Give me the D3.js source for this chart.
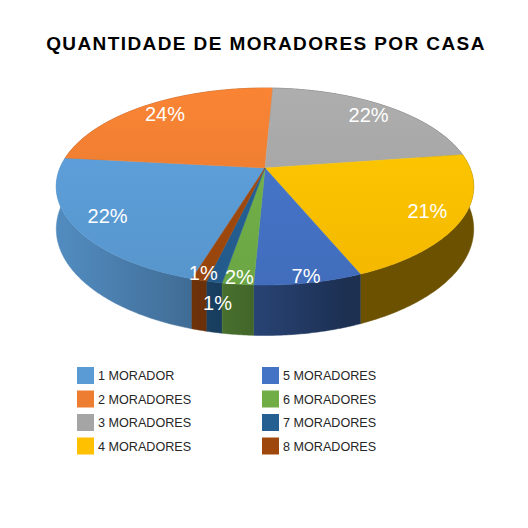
<!DOCTYPE html>
<html>
<head>
<meta charset="utf-8">
<script src="https://cdn.jsdelivr.net/npm/d3@7"></script>
<style>
  body { margin: 0; background: #fff; }
  svg { font-family: "Liberation Sans", Arial, sans-serif; }
</style>
</head>
<body>
<div id="chart"></div>
<script>
const categories = ['1 MORADOR', '2 MORADORES', '3 MORADORES', '4 MORADORES',
	'5 MORADORES', '6 MORADORES', '7 MORADORES', '8 MORADORES'];
const percentages = [22, 24, 22, 21, 7, 2, 1, 1];
const sliceColors = ['#5b9bd5', '#ed7d31', '#a5a5a5', '#ffc000',
	'#4472c4', '#70ad47', '#255e91', '#9e480e'];

const width = 528;
const height = 528;

// 3d disc, simple perspective
const cx = 265;
const cy = 168;
const rx = 205;
const ry = 95;
const persp = 0.188;
const depth = 41;
const startDeg = 197;

const svg = d3.select('#chart')
	.append('svg')
	.attr('width', width)
	.attr('height', height)
	.attr('viewBox', [0, 0, width, height]);

svg.append('text')
	.attr('x', 266)
	.attr('y', 50)
	.attr('text-anchor', 'middle')
	.style('font-size', '19px')
	.style('font-weight', 'bold')
	.style('letter-spacing', '1.4px')
	.attr('fill', '#000')
	.text('QUANTIDADE DE MORADORES POR CASA');

const color = d3.scaleOrdinal().domain(categories).range(sliceColors);

const pie = d3.pie()
	.sort(null)
	.value((d) => d.value)
	.startAngle((startDeg * Math.PI) / 180)
	.endAngle((startDeg * Math.PI) / 180 + 2 * Math.PI);

const arcs = pie(categories.map((c, i) => ({ name: c, value: percentages[i] })));

// angle a (d3 convention), radius r (0..1), z 0 = top, 1 = bottom
function project(a, r, z) {
	const u = r * Math.sin(a);
	const v = -r * Math.cos(a);
	const p = 1 / (1 - persp * v);
	return [cx + rx * u * p, cy + ry * v * p + z * depth * p];
}

function shade(a) {
	// light coming from the left
	const lit = Math.max(0, -0.9 * Math.sin(a) - 0.3 * Math.cos(a));
	return 0.42 + 0.5 * lit;
}

function arcPoints(a0, a1, z, step) {
	const n = Math.max(2, Math.ceil(Math.abs(a1 - a0) / step));
	return d3.range(n + 1).map((i) => project(a0 + ((a1 - a0) * i) / n, 1, z));
}

const line = d3.line();
const defs = svg.append('defs');

// side walls, one shaded path per slice
arcs.forEach((d, i) => {
	const g = defs.append('linearGradient')
		.attr('id', 'side' + i)
		.attr('gradientUnits', 'userSpaceOnUse')
		.attr('x1', 0).attr('y1', 0).attr('x2', width).attr('y2', 0);
	const n = 40;
	const stops = [];
	for (let k = 0; k <= n; k++) {
		const a = d.startAngle + ((d.endAngle - d.startAngle) * k) / n;
		if (-Math.cos(a) < 0.15) continue;
		const [x] = project(a, 1, 0);
		stops.push({ o: x / width, c: d3.interpolateRgb(color(d.data.name), '#000')(1 - shade(a)) });
	}
	if (!stops.length) {
		const a = (d.startAngle + d.endAngle) / 2;
		stops.push({ o: 0, c: d3.interpolateRgb(color(d.data.name), '#000')(1 - shade(a)) });
	}
	stops.sort((a, b) => a.o - b.o);
	stops.forEach((s) => g.append('stop').attr('offset', s.o).attr('stop-color', s.c));
});

const wallOrder = arcs.map((d, i) => ({ d, i }))
	.sort((a, b) => -Math.cos((a.d.startAngle + a.d.endAngle) / 2) + Math.cos((b.d.startAngle + b.d.endAngle) / 2));

svg.append('g')
	.selectAll('path')
	.data(wallOrder)
	.join('path')
	.attr('d', (w) => line(arcPoints(w.d.startAngle, w.d.endAngle, 0, 0.01)
		.concat(arcPoints(w.d.endAngle, w.d.startAngle, 1, 0.01))) + 'Z')
	.attr('fill', (w) => `url(#side${w.i})`)
	.attr('stroke', (w) => `url(#side${w.i})`)
	.attr('stroke-width', 0.5);

// top faces
arcs.forEach((d, i) => {
	const base = d3.color(color(d.data.name));
	const g = defs.append('linearGradient')
		.attr('id', 'top' + i)
		.attr('gradientUnits', 'userSpaceOnUse')
		.attr('x1', 0).attr('y1', 85).attr('x2', 0).attr('y2', 285);
	g.append('stop').attr('offset', 0).attr('stop-color', base.brighter(0.15));
	g.append('stop').attr('offset', 1).attr('stop-color', base.darker(0.12));
});

svg.append('g')
	.selectAll('path')
	.data(arcs)
	.join('path')
	.attr('d', (d) => line([[cx, cy]].concat(arcPoints(d.startAngle, d.endAngle, 0, 0.01))) + 'Z')
	.attr('fill', (d, i) => `url(#top${i})`)
	.attr('stroke', (d, i) => `url(#top${i})`)
	.attr('stroke-width', 0.5);

// data labels
const placed = [];
const labels = arcs.map((d) => {
	const mid = (d.startAngle + d.endAngle) / 2;
	const small = d.data.value < 10;
	let [x, y] = project(mid, small ? 0.95 : 0.84, 0);
	const w = String(d.data.value).length * 11 + 18;
	placed.forEach((o) => {
		if (Math.abs(o.x - x) < (o.w + w) / 2 && Math.abs(o.y - y) < 20) y += 28;
	});
	const lab = { x, y, w, text: d.data.value + '%' };
	placed.push(lab);
	return lab;
});

svg.append('g')
	.selectAll('text')
	.data(labels)
	.join('text')
	.attr('x', (d) => d.x)
	.attr('y', (d) => d.y)
	.attr('text-anchor', 'middle')
	.attr('dominant-baseline', 'central')
	.attr('fill', '#fff')
	.style('font-size', '20px')
	.text((d) => d.text);

// legend
const legend = svg.append('g')
	.selectAll('g')
	.data(categories)
	.join('g')
	.attr('transform', (d, i) => `translate(${i < 4 ? 77 : 262},${367 + (i % 4) * 23.5})`);

legend.append('rect')
	.attr('width', 17)
	.attr('height', 17)
	.attr('fill', (d) => color(d));

legend.append('text')
	.attr('x', 21)
	.attr('y', 9)
	.attr('dominant-baseline', 'central')
	.attr('fill', '#262626')
	.style('font-size', '12.6px')
	.text((d) => d);
</script>
</body>
</html>
